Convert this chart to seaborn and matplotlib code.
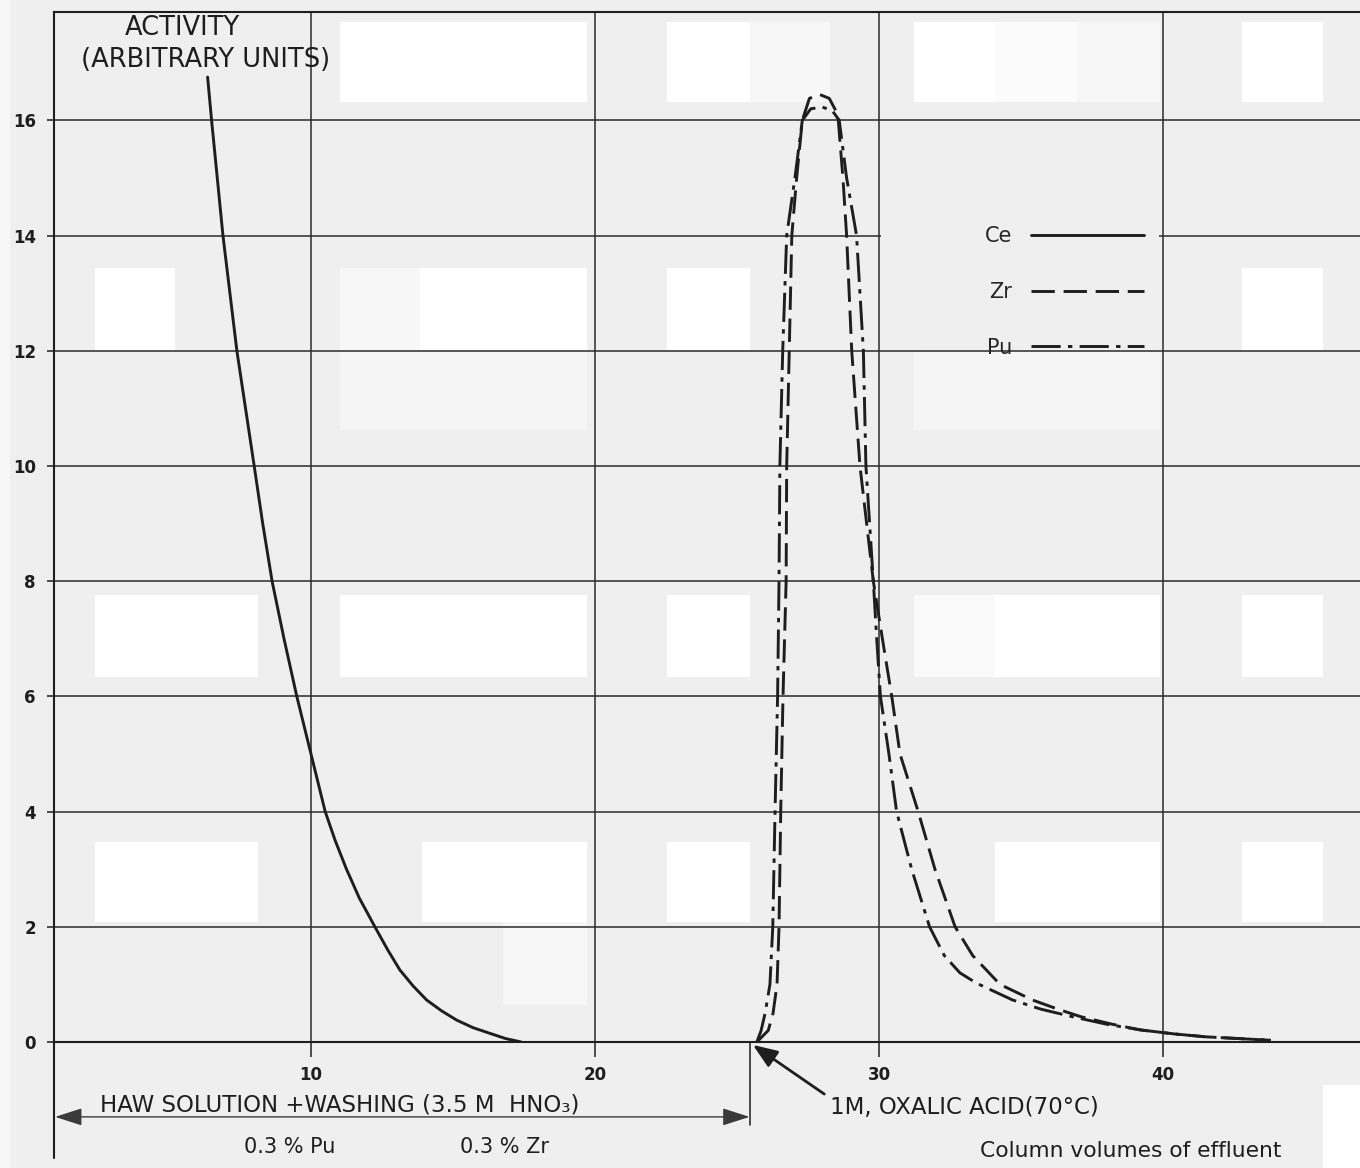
import pandas as pd
import matplotlib.pyplot as plt
from matplotlib.patches import Rectangle
import seaborn as sns

# values
ce_x = [6.36, 6.5, 6.9, 7.39, 8.0, 8.3, 8.63, 9.05, 9.5, 10.0, 10.5, 10.85, 11.25, 11.7, 12.25,
        12.7, 13.13, 13.6, 14.07, 14.6, 15.13, 15.7, 16.3, 16.85, 17.4]
ce_y = [16.75, 16.0, 14.0, 12.0, 10.0, 9.0, 8.0, 7.0, 6.0, 5.0, 4.0, 3.5, 3.0, 2.5, 2.0,
        1.6, 1.25, 0.97, 0.73, 0.54, 0.38, 0.25, 0.15, 0.06, 0.0]

zr_x = [25.7, 26.1, 26.27, 26.41, 26.48, 26.54, 26.62, 26.73, 26.75, 26.84, 26.93, 27.1, 27.3,
        27.55, 27.9, 28.25, 28.55, 28.73, 28.86, 29.04, 29.33, 29.8, 30.12, 30.45, 30.74,
        31.38, 31.97, 32.68, 33.3, 34.26, 35.4, 36.3, 37.1, 38.2, 39.2, 40.4, 41.5, 43.8]
zr_y = [0.0, 0.2, 0.5, 1.0, 2.0, 4.0, 6.0, 8.0, 10.0, 12.0, 14.0, 15.0, 16.0,
        16.38, 16.45, 16.38, 16.1, 15.0, 14.0, 12.0, 10.0, 8.0, 7.0, 6.0, 5.0,
        4.0, 3.0, 2.0, 1.5, 1.0, 0.73, 0.57, 0.44, 0.31, 0.21, 0.14, 0.09, 0.03]

pu_x = [25.7, 25.85, 25.99, 26.16, 26.26, 26.34, 26.43, 26.48, 26.51, 26.61, 26.75, 27.04, 27.3,
        27.6, 28.0, 28.35, 28.6, 28.86, 29.21, 29.45, 29.54, 29.8, 29.92, 30.05, 30.35, 30.62,
        31.15, 31.78, 32.3, 32.85, 33.44, 34.7, 35.7, 36.8, 38.0, 39.2, 40.4, 41.5, 43.8]
pu_y = [0.0, 0.2, 0.5, 1.0, 2.0, 4.0, 6.0, 8.0, 10.0, 12.0, 14.0, 15.0, 16.0,
        16.2, 16.23, 16.17, 16.0, 15.0, 14.0, 12.0, 10.0, 8.0, 7.0, 6.0, 5.0, 4.0,
        3.0, 2.0, 1.5, 1.2, 1.02, 0.73, 0.57, 0.44, 0.31, 0.21, 0.14, 0.09, 0.03]

elements = ["Ce", "Zr", "Pu"]
x_ticks = [10, 20, 30, 40]
y_ticks = [0, 2, 4, 6, 8, 10, 12, 14, 16]

df = pd.concat([
    pd.DataFrame({"volume": ce_x, "activity": ce_y, "element": "Ce"}),
    pd.DataFrame({"volume": zr_x, "activity": zr_y, "element": "Zr"}),
    pd.DataFrame({"volume": pu_x, "activity": pu_y, "element": "Pu"}),
])

sns.set_theme(style="white")
plt.rcParams["font.family"] = ["DejaVu Sans"]

W, H = 1360, 1168
ink = "#1e1e1e"
paper = "#efefef"
fig = plt.figure(figsize=(W / 100, H / 100), dpi=100, facecolor=paper)
ax = fig.add_axes([54 / W, (H - 1042) / H, 1306 / W, 1030 / H])
ax.set_facecolor("none")

# white blotches of the scan
blotches = [
    (340, 22, 587, 102, "white"), (667, 22, 750, 102, "white"), (750, 22, 830, 102, "#f7f7f7"),
    (914, 22, 995, 102, "white"), (995, 22, 1077, 102, "#fbfbfb"), (1077, 22, 1160, 102, "#f7f7f7"),
    (1242, 22, 1323, 102, "white"),
    (95, 268, 175, 350, "white"), (340, 268, 420, 350, "#f7f7f7"), (420, 268, 587, 350, "white"),
    (667, 268, 750, 350, "white"), (1242, 268, 1323, 350, "white"),
    (340, 350, 587, 430, "#f5f5f5"), (914, 350, 1160, 430, "#f5f5f5"),
    (95, 595, 258, 677, "white"), (340, 595, 587, 677, "white"), (667, 595, 750, 677, "white"),
    (914, 595, 995, 677, "#fafafa"), (995, 595, 1160, 677, "white"), (1242, 595, 1323, 677, "white"),
    (95, 842, 258, 922, "white"), (422, 842, 587, 922, "white"), (667, 842, 750, 922, "white"),
    (995, 842, 1160, 922, "white"), (1242, 842, 1323, 922, "white"), (503, 922, 587, 1005, "#f6f6f6"),
    (1323, 1085, 1360, 1168, "white"), (0, 0, 10, 1168, "#f7f7f7"),
]
for x0, y0, x1, y1, c in blotches:
    fig.add_artist(Rectangle((x0 / W, 1 - y1 / H), (x1 - x0) / W, (y1 - y0) / H,
                             transform=fig.transFigure, color=c, lw=0, zorder=-1))

sns.lineplot(data=df, x="volume", y="activity", hue="element", style="element",
             hue_order=elements, style_order=elements,
             palette={"Ce": ink, "Zr": ink, "Pu": ink},
             dashes={"Ce": "", "Zr": (8, 3), "Pu": (10, 2.5, 1.5, 2.5)},
             estimator=None, sort=False, lw=2.1, ax=ax)

# the 14 grid line is broken behind the key (above grid, below curves and legend)
ax.add_artist(Rectangle((881 / W, 1 - 243 / H), 278 / W, 12 / H,
                        transform=fig.transFigure, color=paper, lw=0, zorder=1))

ax.set_xlim(0.951, 46.937)
ax.set_ylim(0, 17.88)
ax.set_xticks(x_ticks)
ax.set_yticks(y_ticks)
ax.set_xticklabels([str(v) for v in x_ticks], fontsize=12, fontweight="bold", color=ink)
ax.set_yticklabels([str(v) for v in y_ticks], fontsize=12, fontweight="bold", color=ink)
ax.tick_params(axis="x", length=11, width=1.1, pad=6, colors=ink, bottom=True)
ax.tick_params(axis="y", length=5, width=1.1, pad=8, colors=ink, left=True)
ax.set_axisbelow(True)
ax.grid(True, color="#2a2a2a", lw=1.1, zorder=0.5)
ax.set_xlabel("")
ax.set_ylabel("")
for side in ["left", "bottom", "top"]:
    ax.spines[side].set_color(ink)
    ax.spines[side].set_linewidth(1.5)
ax.spines["right"].set_visible(False)

# left border runs down past the zero line, arrow limit tick
ax.axvline(0.951, ymin=-0.113, ymax=0, color=ink, lw=1.5, clip_on=False)
ax.axvline(25.46, ymin=-0.081, ymax=0, color=ink, lw=1.1, clip_on=False)

handles, labels = ax.get_legend_handles_labels()
leg = ax.legend(handles, labels, loc="upper left", bbox_to_anchor=(985 / W, 1 - 226 / H),
                bbox_transform=fig.transFigure, frameon=False, markerfirst=False,
                handlelength=5.4, handletextpad=0.9, labelspacing=1.72, fontsize=15,
                borderpad=0, borderaxespad=0)
leg.set_zorder(6)

ax.text(5.46, 17.6, "ACTIVITY", ha="center", va="center", fontsize=18.5, color=ink)
ax.text(6.3, 17.05, "(ARBITRARY UNITS)", ha="center", va="center", fontsize=18.5, color=ink)

ax.annotate("", xy=(0.99, -1.30), xytext=(25.44, -1.30), annotation_clip=False,
            arrowprops=dict(arrowstyle="<|-|>,head_length=1.4,head_width=0.45",
                            color="#3a3a3a", lw=1.0, shrinkA=0, shrinkB=0))
ax.text(2.57, -1.09, "HAW SOLUTION +WASHING (3.5 M  HNO\u2083)", ha="left", va="center",
        fontsize=16.5, color=ink, clip_on=False)
ax.text(9.26, -1.82, "0.3 % Pu", ha="center", va="center", fontsize=15, color=ink, clip_on=False)
ax.text(16.83, -1.82, "0.3 % Zr", ha="center", va="center", fontsize=15, color=ink, clip_on=False)

ax.annotate("1M, OXALIC ACID(70\u00b0C)", xy=(25.56, -0.05), xytext=(28.27, -1.13),
            ha="left", va="center", fontsize=16.5, color=ink, annotation_clip=False,
            arrowprops=dict(arrowstyle="-|>,head_length=0.9,head_width=0.35",
                            color=ink, lw=2.0, shrinkA=2, shrinkB=0,
                            relpos=(0, 0.9)))
ax.text(33.56, -1.89, "Column volumes of effluent", ha="left", va="center", fontsize=15.7,
        color=ink, clip_on=False)

fig.savefig("out.png", dpi=100, facecolor=fig.get_facecolor())
